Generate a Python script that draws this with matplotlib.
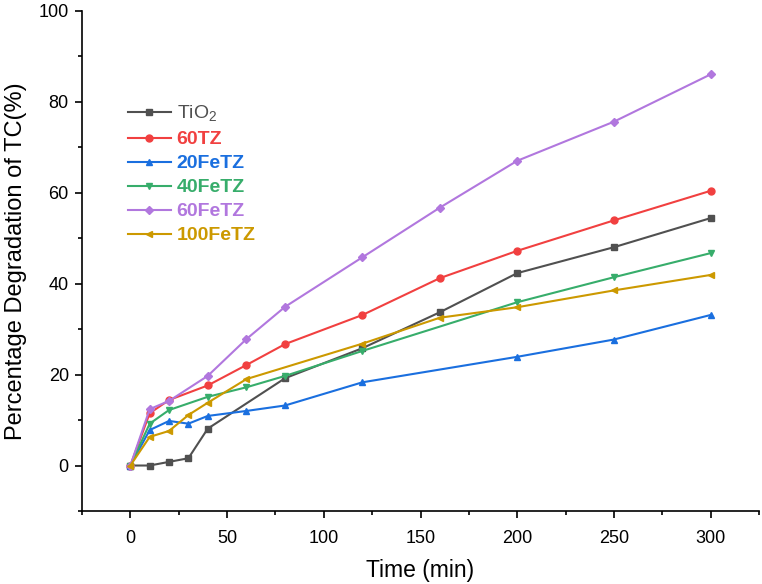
import numpy as np
import matplotlib
matplotlib.use("Agg")
import matplotlib.pyplot as plt
from matplotlib.ticker import MultipleLocator

# ------------------------------
# data
# ------------------------------
t_tio2 = [0, 10, 20, 30, 40, 80, 120, 160, 200, 250, 300]
y_tio2 = [0, 0, 0.8, 1.6, 8.1, 19.2, 25.8, 33.7, 42.3, 48.0, 54.4]

t_60tz = [0, 10, 20, 40, 60, 80, 120, 160, 200, 250, 300]
y_60tz = [0, 11.5, 14.4, 17.6, 22.1, 26.7, 33.1, 41.2, 47.2, 53.9, 60.4]

t_20fetz = [0, 10, 20, 30, 40, 60, 80, 120, 200, 250, 300]
y_20fetz = [0, 7.8, 9.8, 9.2, 10.9, 12.0, 13.2, 18.3, 23.9, 27.7, 33.1]

t_40fetz = [0, 10, 20, 40, 60, 80, 120, 200, 250, 300]
y_40fetz = [0, 9.2, 12.2, 15.1, 17.2, 19.7, 25.2, 35.9, 41.4, 46.7]

t_60fetz = [0, 10, 20, 40, 60, 80, 120, 160, 200, 250, 300]
y_60fetz = [0, 12.4, 14.2, 19.7, 27.8, 34.9, 45.8, 56.7, 67.0, 75.6, 86.0]

t_100fetz = [0, 10, 20, 30, 40, 60, 120, 160, 200, 250, 300]
y_100fetz = [0, 6.3, 7.6, 11.1, 13.8, 19.0, 26.8, 32.5, 34.8, 38.5, 41.9]

series = [
    (t_tio2, y_tio2, r"TiO$_2$", "#505050", "s"),
    (t_60tz, y_60tz, "60TZ", "#F14040", "o"),
    (t_20fetz, y_20fetz, "20FeTZ", "#1A6FDF", "^"),
    (t_40fetz, y_40fetz, "40FeTZ", "#37AD6B", "v"),
    (t_60fetz, y_60fetz, "60FeTZ", "#B177DE", "D"),
    (t_100fetz, y_100fetz, "100FeTZ", "#CC9900", "<"),
]

plt.rcParams["font.family"] = ["Liberation Sans", "DejaVu Sans"]
plt.rcParams["mathtext.fontset"] = "custom"
plt.rcParams["mathtext.rm"] = "Liberation Sans"

fig = plt.figure(figsize=(7.62, 5.84), dpi=100)
ax = fig.add_axes([82 / 762, 1 - 511 / 584, (759 - 82) / 762, (511 - 10.7) / 584])

for t, y, lab, col, mk in series:
    ms = 4.5 if mk == "D" else 5
    ax.plot(t, y, color=col, marker=mk, markersize=ms, linewidth=1.5, label=lab)

ax.set_xlim(-25, 325)
ax.set_ylim(-10, 100)
ax.xaxis.set_major_locator(MultipleLocator(50))
ax.xaxis.set_minor_locator(MultipleLocator(25))
ax.yaxis.set_major_locator(MultipleLocator(20))
ax.yaxis.set_minor_locator(MultipleLocator(10))

for s in ["top", "right"]:
    ax.spines[s].set_visible(False)
for s in ["left", "bottom"]:
    ax.spines[s].set_linewidth(1.2)

ax.tick_params(which="major", direction="out", length=5, width=1.2, labelsize=13)
ax.tick_params(which="minor", direction="out", length=3, width=1.2)
ax.tick_params(axis="x", which="major", pad=8.5)
ax.tick_params(axis="y", which="major", pad=4.5)

ax.set_xlabel("Time (min)", fontsize=16.5, labelpad=9)
ax.set_ylabel("Percentage Degradation of TC(%)", fontsize=17, labelpad=8)

leg = ax.legend(loc="upper left", bbox_to_anchor=(128 / 762, 1 - 104 / 584),
                bbox_transform=fig.transFigure, frameon=False, fontsize=14,
                handlelength=2.2, handletextpad=0.3, labelspacing=0.33,
                borderpad=0, borderaxespad=0)
for txt, (_, _, _, col, _) in zip(leg.get_texts(), series):
    txt.set_color(col)
    if col != "#505050":
        txt.set_fontweight("bold")

fig.savefig("out.png", dpi=100)
